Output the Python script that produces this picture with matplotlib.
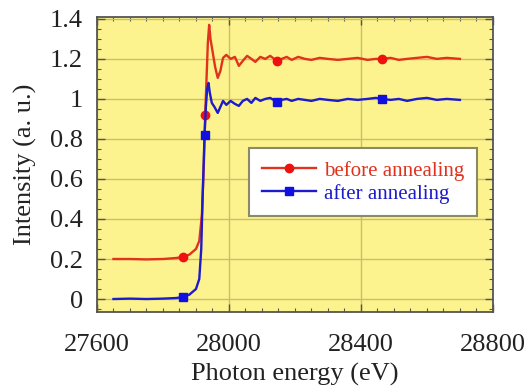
import matplotlib
matplotlib.use("Agg")
import matplotlib.pyplot as plt
from matplotlib.ticker import MultipleLocator, FixedLocator
import numpy as np

# Data
energy_before = [27650, 27700, 27750, 27800, 27840, 27860, 27880, 27900, 27910, 27918,
                 27924, 27928, 27932, 27936, 27940, 27944, 27950, 27958, 27966, 27974,
                 27982, 27992, 28005, 28018, 28030, 28042, 28055, 28068, 28080, 28095,
                 28110, 28125, 28145, 28160, 28175, 28190, 28210, 28230, 28250, 28275,
                 28300, 28330, 28360, 28390, 28420, 28445, 28465, 28490, 28515, 28540,
                 28570, 28600, 28630, 28660, 28700]
intensity_before = [0.200, 0.200, 0.198, 0.200, 0.205, 0.210, 0.222, 0.250, 0.290, 0.420,
                    0.680, 0.920, 1.100, 1.280, 1.370, 1.300, 1.240, 1.160, 1.105, 1.140,
                    1.205, 1.220, 1.200, 1.210, 1.165, 1.190, 1.215, 1.200, 1.185, 1.210,
                    1.200, 1.215, 1.190, 1.200, 1.210, 1.195, 1.210, 1.200, 1.195, 1.205,
                    1.200, 1.195, 1.200, 1.205, 1.195, 1.200, 1.200, 1.205, 1.195, 1.200,
                    1.205, 1.210, 1.200, 1.205, 1.200]
markers_before = [27860, 27928, 28145, 28465]

energy_after = [27650, 27700, 27750, 27800, 27840, 27860, 27880, 27900, 27910, 27916,
                27920, 27926, 27930, 27934, 27938, 27942, 27948, 27956, 27966, 27974,
                27982, 27992, 28005, 28018, 28030, 28042, 28055, 28068, 28080, 28095,
                28110, 28125, 28145, 28160, 28175, 28190, 28210, 28230, 28250, 28275,
                28300, 28330, 28360, 28390, 28420, 28445, 28465, 28490, 28515, 28540,
                28570, 28600, 28630, 28660, 28700]
intensity_after = [0.000, 0.002, 0.000, 0.002, 0.005, 0.010, 0.022, 0.050, 0.100, 0.250,
                   0.500, 0.820, 0.960, 1.050, 1.080, 1.030, 0.980, 0.960, 0.930, 0.960,
                   0.990, 0.970, 0.990, 0.975, 0.965, 0.990, 1.000, 0.980, 1.005, 0.990,
                   1.000, 1.005, 0.985, 0.995, 1.000, 0.990, 1.000, 0.995, 0.990, 1.000,
                   0.995, 0.990, 1.000, 0.995, 1.000, 1.005, 1.000, 0.995, 1.000, 0.990,
                   1.000, 1.005, 0.995, 1.000, 0.995]
markers_after = [27860, 27926, 28145, 28465]

x_ticks = [27600, 28000, 28400, 28800]
y_ticks = [0, 0.2, 0.4, 0.6, 0.8, 1.0, 1.2, 1.4]
y_tick_labels = ["0", "0.2", "0.4", "0.6", "0.8", "1", "1.2", "1.4"]

plt.rcParams['font.family'] = ['Liberation Serif', 'DejaVu Serif']

fig = plt.figure(figsize=(5.30, 3.92), dpi=100)
ax = fig.add_axes([0.183, 0.204, 0.747, 0.753])
ax.set_facecolor('#fdf38e')

red = '#e0321c'
blue = '#1c1ccc'
mb = [energy_before.index(e) for e in markers_before]
ma = [energy_after.index(e) for e in markers_after]

ax.plot(energy_before, intensity_before, color=red, lw=1.7, marker='o', ms=6,
        markevery=mb, mfc='#ee1111', mec='#ee1111', label='before annealing', zorder=3)
ax.plot(energy_after, intensity_after, color=blue, lw=1.7, marker='s', ms=6,
        markevery=ma, mfc='#1010e0', mec='#1010e0', label='after annealing', zorder=3)

ax.set_xlim(27600, 28800)
ax.set_ylim(-0.065, 1.41)
ax.xaxis.set_major_locator(FixedLocator(x_ticks))
ax.xaxis.set_minor_locator(MultipleLocator(50))
ax.yaxis.set_major_locator(FixedLocator(y_ticks))
ax.set_yticklabels(y_tick_labels)
ax.yaxis.set_minor_locator(MultipleLocator(0.05))
ax.tick_params(which='both', direction='in', top=True, right=True, colors='#555555',
               labelcolor='#222222', labelsize=19)
ax.tick_params(which='major', length=6, width=1)
ax.tick_params(which='minor', length=3, width=0.8)
ax.tick_params(axis='x', pad=16)
ax.tick_params(axis='y', pad=10)
ax.grid(True, which='major', color='#c9bf6a', lw=1.0)
ax.set_axisbelow(True)
for s in ax.spines.values():
    s.set_color('#555555')
    s.set_linewidth(1.3)

ax.set_xlabel('Photon energy (eV)', fontsize=19, color='#222222', labelpad=5)
ax.set_ylabel('Intensity (a. u.)', fontsize=19, color='#222222', labelpad=9)

leg = ax.legend(loc='lower left', bbox_to_anchor=(0.384, 0.325, 0.576, 0.224),
                mode='expand', fontsize=15, frameon=True, fancybox=False,
                handlelength=2.6, borderpad=0.6, labelspacing=0.15, handletextpad=0.4,
                borderaxespad=0)
leg.get_frame().set_edgecolor('#8a8a66')
leg.get_frame().set_linewidth(1.5)
leg.get_frame().set_facecolor('white')
leg.get_frame().set_alpha(1)
for t, c in zip(leg.get_texts(), [red, blue]):
    t.set_color(c)

fig.savefig('out.png', dpi=100)
